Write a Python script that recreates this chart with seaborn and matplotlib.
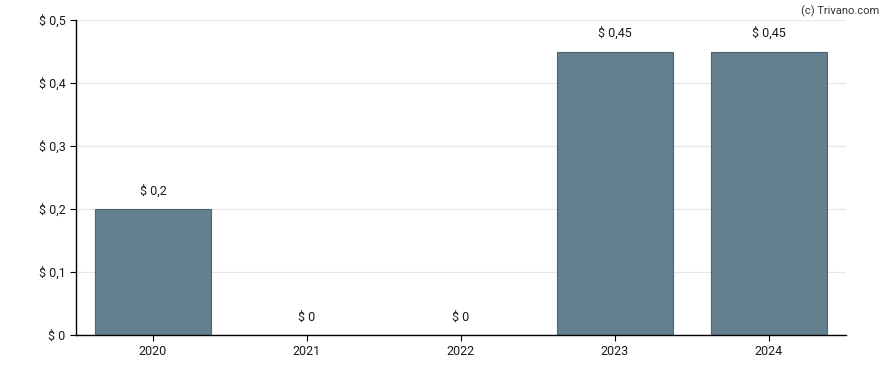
import matplotlib
matplotlib.use('Agg')
import matplotlib.pyplot as plt
import seaborn as sns
import pandas as pd

years = ['2020', '2021', '2022', '2023', '2024']
dividend = [0.2, 0.0, 0.0, 0.45, 0.45]
value_labels = ['$ 0,2', '$ 0', '$ 0', '$ 0,45', '$ 0,45']
ytick_vals = [0, 0.1, 0.2, 0.3, 0.4, 0.5]
ytick_labels = ['$ 0', '$ 0,1', '$ 0,2', '$ 0,3', '$ 0,4', '$ 0,5']

sns.set_style('white')
plt.rcParams['font.family'] = ['Roboto', 'DejaVu Sans']

df = pd.DataFrame({'year': years, 'dividend': dividend})

fig = plt.figure(figsize=(8.88, 3.70), dpi=100)
ax = fig.add_axes([0.0856, 0.0946, 0.867, 0.8513])

sns.barplot(data=df, x='year', y='dividend', color='#64808f', saturation=1,
            width=0.75, edgecolor='#4a6478', linewidth=0.8, ax=ax, zorder=2)

for i, (v, lab) in enumerate(zip(dividend, value_labels)):
    ax.annotate(lab, (i, v), xytext=(0, 13), textcoords='offset points',
                ha='center', va='center', fontsize=9, color='#1a1a1a')

ax.set_xlim(-0.5, 4.5)
ax.set_ylim(0, 0.5)
ax.set_yticks(ytick_vals)
ax.set_yticklabels(ytick_labels)
ax.yaxis.grid(True, color='#e6e6e6', linewidth=0.8, zorder=0)
ax.set_axisbelow(True)
ax.set_xlabel('')
ax.set_ylabel('')
for s in ['top', 'right']:
    ax.spines[s].set_visible(False)
for s in ['left', 'bottom']:
    ax.spines[s].set_color('black')
    ax.spines[s].set_linewidth(1)
ax.tick_params(axis='both', length=4, width=0.8, color='black', labelsize=9,
               labelcolor='#1a1a1a', left=True, bottom=True)

fig.text(0.99, 0.985, '(c) Trivano.com', ha='right', va='top', fontsize=8, color='#333333')

fig.savefig('out.png', dpi=100)
